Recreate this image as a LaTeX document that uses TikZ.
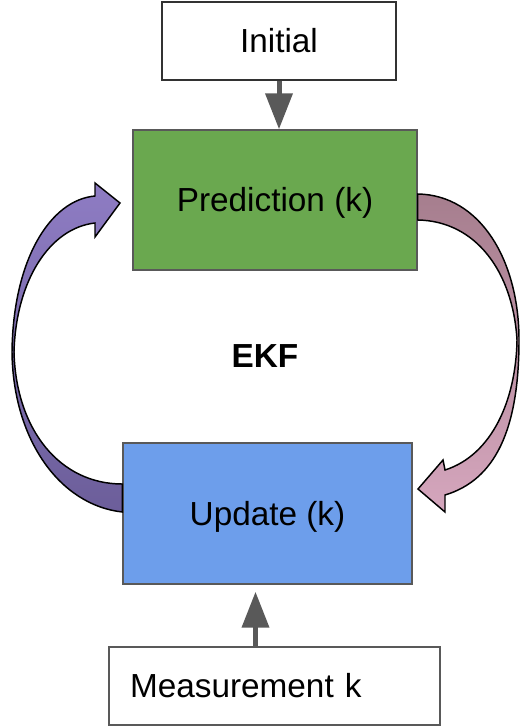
\documentclass[tikz,border=0pt]{standalone}
\usepackage{fontspec}
\setmainfont{Liberation Sans}
\usetikzlibrary{arrows.meta}

\tikzset{every picture/.style={line width=0.75pt},
  stepnode/.style={draw={rgb, 255:red, 89; green, 89; blue, 89 }, line width=1.1pt, inner sep=0pt,
    font=\fontsize{25}{30}\selectfont, text height=17.9pt, text depth=0pt},
  feedarrow/.style={draw={rgb, 255:red, 89; green, 89; blue, 89 }, line width=3.75pt,
    -{Triangle[width=20pt,length=27pt]}},
  looparrow/.style={draw=black, line width=1.1pt, line join=miter}
}

\begin{document}
\begin{tikzpicture}[x=0.75pt,y=0.75pt,yscale=-1,xscale=1]
	\useasboundingbox (0,0) rectangle (519,727);

	%Shape: Rectangle [id:init]
	\node[stepnode, draw={rgb, 255:red, 50; green, 50; blue, 50 }, fill=white, minimum width=175.5pt, minimum height=58.5pt] (init) at (279,41) {Initial};
	%Shape: Rectangle [id:pred]
	\node[stepnode, fill={rgb, 255:red, 106; green, 168; blue, 79 }, minimum width=213pt, minimum height=105pt] (pred) at (275,200) {Prediction (k)};
	%Shape: Rectangle [id:upd]
	\node[stepnode, fill={rgb, 255:red, 109; green, 158; blue, 235 }, minimum width=216.75pt, minimum height=105.75pt] (upd) at (267.5,513.5) {Update (k)};
	%Shape: Rectangle [id:meas]
	\node[stepnode, fill=white, minimum height=58.5pt, inner xsep=15.75pt, text width=216.75pt, align=left] (meas) at (274.5,686) {Measurement k};

	% Text Node
	\node[font=\fontsize{25}{30}\selectfont\bfseries] (ekf) at (265,356) {EKF};

	%Straight Lines [id:initarrow]
	\draw[feedarrow] (init.south) -- (init.south |- pred.north);
	%Straight Lines [id:measarrow]
	\coordinate (mtop) at ([xshift=-14.25pt]meas.north);
	\draw[feedarrow, shorten >=5.25pt] (mtop) -- (mtop |- upd.south);

	%Curve Arrow [id:updtopred]
	\draw[looparrow, top color={rgb, 255:red, 142; green, 124; blue, 195 }, bottom color={rgb, 255:red, 108; green, 94; blue, 154 }]
	  (upd.west |- 0,512) .. controls (60,505) and (13,440) .. (12,352)
	  .. controls (13,260) and (50,200) .. (95,196) -- (95,183) -- (120,203) -- (95,237) -- (95,223)
	  .. controls (50,228) and (16,280) .. (14,352) .. controls (16,430) and (60,484) .. (upd.west |- 0,484) -- cycle;
	%Curve Arrow [id:predtoupd]
	\draw[looparrow, top color={rgb, 255:red, 166; green, 126; blue, 142 }, bottom color={rgb, 255:red, 213; green, 166; blue, 189 }]
	  (pred.east |- 0,194) .. controls (480,195) and (519,260) .. (519,340)
	  .. controls (519,430) and (495,480) .. (445,495) -- (445,512) -- (418,489) -- (443,460) -- (445,470)
	  .. controls (492,455) and (516,400) .. (517,340) .. controls (513,272) and (476,221) .. (pred.east |- 0,220) -- cycle;

\end{tikzpicture}
\end{document}
